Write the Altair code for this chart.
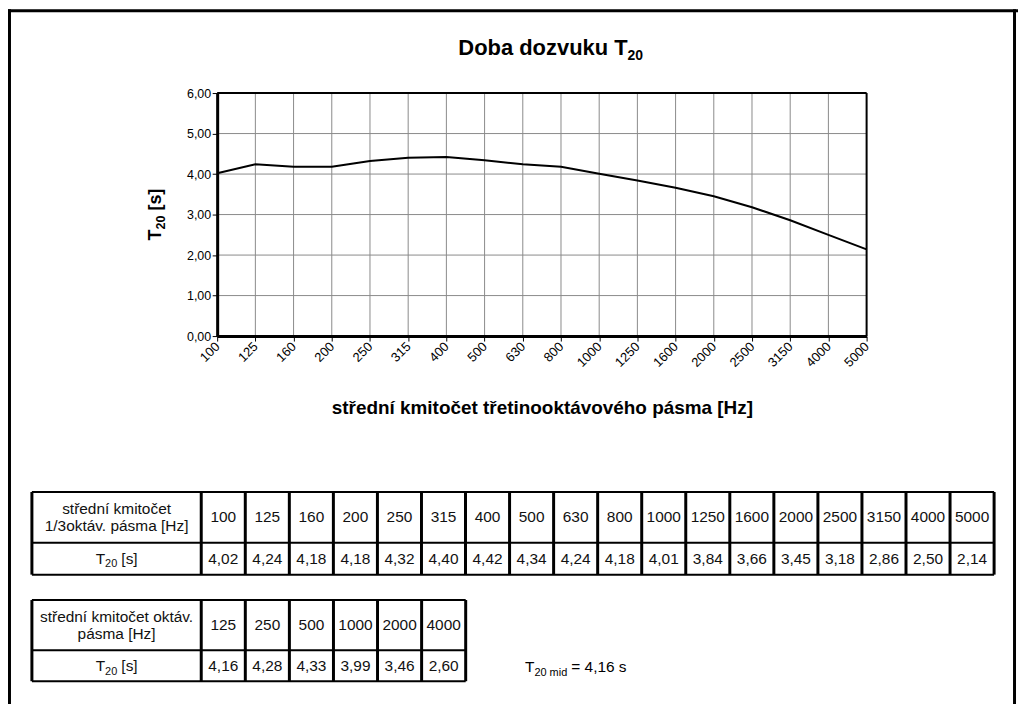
import altair as alt
import pandas as pd

# ---------------- data ----------------
freqs = ["100", "125", "160", "200", "250", "315", "400", "500", "630", "800",
         "1000", "1250", "1600", "2000", "2500", "3150", "4000", "5000"]
t20 = [4.02, 4.24, 4.18, 4.18, 4.32, 4.40, 4.42, 4.34, 4.24, 4.18,
       4.01, 3.84, 3.66, 3.45, 3.18, 2.86, 2.50, 2.14]
oct_freqs = ["125", "250", "500", "1000", "2000", "4000"]
t20_oct = [4.16, 4.28, 4.33, 3.99, 3.46, 2.60]
t20_mid = 4.16
y_ticks = [0, 1, 2, 3, 4, 5, 6]

title_main = "Doba dozvuku T"
title_sub = "20"
x_title = "střední kmitočet třetinooktávového pásma [Hz]"
y_title_parts = ["T", "20", "[s]"]
hdr1 = "střední kmitočet\n1/3oktáv. pásma [Hz]"
hdr2 = "střední kmitočet oktáv.\npásma [Hz]"
row_label_parts = ["T", "20", "[s]"]
mid_main = "T"
mid_sub = "20 mid"
mid_rest = "= " + f"{t20_mid:.2f}".replace(".", ",") + " s"

FONT = "Liberation Sans, Arial, sans-serif"
TFONT = "Liberation Sans, Arial, sans-serif"
TSIZE = 15.5
W, H = 1014, 696


def fmt(v):
    return f"{v:.2f}".replace(".", ",")


# ---------------- plot ----------------
xs = alt.Scale(type="point", domain=freqs, range=[210, 862], padding=0)
ys = alt.Scale(type="linear", domain=[0, 6], range=[328, 84], zero=False, nice=False)

x_axis = alt.Axis(
    title=x_title, labelAngle=315, labelAlign="right", labelBaseline="middle",
    labelFont=FONT, labelFontSize=13, labelColor="black", labelPadding=3,
    labelOverlap=False, tickSize=5, tickColor="black", tickWidth=1,
    domainColor="black", domainWidth=3, grid=False, offset=-368, zindex=1,
    titleFont=FONT, titleFontSize=19, titleFontWeight="bold", titleColor="black",
    titleY=72, titleBaseline="middle",
)
y_axis = alt.Axis(
    title=None, values=y_ticks,
    labelExpr="replace(format(datum.value, '.2f'), '.', ',')",
    labelFont=FONT, labelFontSize=12.5, labelColor="black", labelPadding=1.5,
    labelOverlap=False, labelFlush=False, tickSize=5, tickColor="black", tickWidth=1,
    domainColor="black", domainWidth=3, grid=False, offset=-210, zindex=1,
)

df_line = pd.DataFrame({"f": freqs, "t": t20})
df_y = pd.DataFrame({"v": y_ticks})

vgrid = alt.Chart(df_line).mark_rule(color="#8a8a8a", strokeWidth=1).encode(
    x=alt.X("f:N", scale=xs, axis=x_axis),
    y=alt.Y(datum=0, type="quantitative", scale=ys, axis=y_axis),
    y2=alt.Y2(datum=6),
)
hgrid = alt.Chart(df_y).mark_rule(color="#8a8a8a", strokeWidth=1).encode(
    y=alt.Y("v:Q", scale=ys, axis=y_axis),
    x=alt.X(datum=freqs[0], type="nominal", scale=xs, axis=x_axis),
    x2=alt.X2(datum=freqs[-1]),
)
top_border = alt.Chart(df_y.head(1)).mark_rule(color="black", strokeWidth=2).encode(
    y=alt.Y(datum=6, type="quantitative", scale=ys, axis=y_axis),
    x=alt.X(datum=freqs[0], type="nominal", scale=xs, axis=x_axis),
    x2=alt.X2(datum=freqs[-1]),
)
right_border = alt.Chart(df_y.head(1)).mark_rule(color="black", strokeWidth=2).encode(
    x=alt.X(datum=freqs[-1], type="nominal", scale=xs, axis=x_axis),
    y=alt.Y(datum=0, type="quantitative", scale=ys, axis=y_axis),
    y2=alt.Y2(datum=6),
)
line = alt.Chart(df_line).mark_line(color="black", strokeWidth=2).encode(
    x=alt.X("f:N", scale=xs, axis=x_axis),
    y=alt.Y("t:Q", scale=ys, axis=y_axis),
)
plot = alt.layer(vgrid, hgrid, top_border, right_border, line)


# ---------------- tables ----------------
def make_table(freq_list, vals, header, x_range, y_range):
    n = len(freq_list)
    cells = []
    for i, (f, v) in enumerate(zip(freq_list, vals)):
        cells.append({"c": i + 1, "r": 0, "txt": f})
        cells.append({"c": i + 1, "r": 1, "txt": fmt(v)})
    df = pd.DataFrame(cells)
    df["cm"] = df["c"] + 0.5
    df["rm"] = df["r"] + 0.5
    hdr_df = pd.DataFrame({"cm": [0.5], "rm": [0.5], "txt": [header]})
    lab_df = pd.DataFrame({"cm": [0.5], "rm": [1.5]})
    txs = alt.Scale(domain=[0, 1, n + 1], range=x_range, zero=False, nice=False)
    tys = alt.Scale(domain=[0, 1, 2], range=y_range, zero=False, nice=False)
    vb = pd.DataFrame({"b": list(range(n + 2))})
    hb = pd.DataFrame({"b": [0, 1, 2]})
    X = alt.X("cm:Q", scale=txs, axis=None)
    Y = alt.Y("rm:Q", scale=tys, axis=None)
    vlines = alt.Chart(vb).mark_rule(color="black", strokeWidth=3).encode(
        x=alt.X("b:Q", scale=txs, axis=None),
        y=alt.Y(datum=0, type="quantitative", scale=tys, axis=None),
        y2=alt.Y2(datum=2),
    )
    hlines = alt.Chart(hb).mark_rule(color="black", strokeWidth=2).encode(
        y=alt.Y("b:Q", scale=tys, axis=None),
        x=alt.X(datum=0, type="quantitative", scale=txs, axis=None),
        x2=alt.X2(datum=n + 1),
    )
    text = alt.Chart(df).mark_text(
        font=TFONT, fontSize=TSIZE, color="#111", align="center", baseline="middle",
    ).encode(x=X, y=Y, text="txt:N")
    hdr = alt.Chart(hdr_df).mark_text(
        font=TFONT, fontSize=TSIZE, color="#111", align="center", baseline="middle",
        lineBreak="\n", lineHeight=17, dy=-8.5,
    ).encode(x=X, y=Y, text="txt:N")
    lab_a = alt.Chart(lab_df).mark_text(
        font=TFONT, fontSize=TSIZE, color="#111", align="left", baseline="alphabetic",
        dx=-21, dy=5.6,
    ).encode(x=X, y=Y, text=alt.value(row_label_parts[0]))
    lab_b = alt.Chart(lab_df).mark_text(
        font=TFONT, fontSize=11, color="#111", align="left", baseline="alphabetic",
        dx=-11.5, dy=8.8,
    ).encode(x=X, y=Y, text=alt.value(row_label_parts[1]))
    lab_c = alt.Chart(lab_df).mark_text(
        font=TFONT, fontSize=TSIZE, color="#111", align="left", baseline="alphabetic",
        dx=4.8, dy=5.6,
    ).encode(x=X, y=Y, text=alt.value(row_label_parts[2]))
    return alt.layer(text, hdr, lab_a, lab_b, lab_c, hlines, vlines)


table1 = make_table(freqs, t20, hdr1, [24, 194, 990], [484.5, 535.5, 567.5])
table2 = make_table(oct_freqs, t20_oct, hdr2, [24, 194, 459.5], [593, 643.5, 674.5])

one = pd.DataFrame({"k": [0]})


def txt(s, x, y, size, weight="normal", align="left", angle=0):
    return alt.Chart(one).mark_text(
        font=FONT, fontSize=size, fontWeight=weight, align=align, baseline="alphabetic",
        color="black", angle=angle,
    ).encode(x=alt.value(x), y=alt.value(y), text=alt.value(s))


# chart title with subscript
title_a = txt(title_main, 622, 46, 22, "bold", "right")
title_b = txt(title_sub, 622, 51, 14, "bold", "left")

# rotated y title "T20 [s]" with subscript
yt_a = txt(y_title_parts[0], 153.5, 232, 18, "bold", "left", 270)
yt_b = txt(y_title_parts[1], 157.5, 221, 12.6, "bold", "left", 270)
yt_c = txt(y_title_parts[2], 153.5, 202, 18, "bold", "left", 270)

# T20 mid note
mid_a = txt(mid_main, 519, 665, 15.5)
mid_b = txt(mid_sub, 528.5, 669, 11)
mid_c = txt(mid_rest, 565.5, 665, 15.5)

frame_l = alt.Chart(one).mark_rule(color="black", strokeWidth=3).encode(
    x=alt.value(1.5), y=alt.value(0), y2=alt.value(H + 10))
frame_t = alt.Chart(one).mark_rule(color="black", strokeWidth=3).encode(
    y=alt.value(1.5), x=alt.value(0), x2=alt.value(W))
frame_r = alt.Chart(one).mark_rule(color="black", strokeWidth=3).encode(
    x=alt.value(W - 3.5), y=alt.value(0), y2=alt.value(H + 10))

chart = alt.layer(
    plot, table1, table2, title_a, title_b, yt_a, yt_b, yt_c,
    mid_a, mid_b, mid_c, frame_l, frame_t, frame_r
).resolve_scale(x="independent", y="independent").properties(
    width=W, height=H, autosize=alt.AutoSizeParams(type="none"), padding=0,
    background="white",
).configure_view(stroke=None)

chart.save("out.html", embed_options={"renderer": "svg", "actions": False})
